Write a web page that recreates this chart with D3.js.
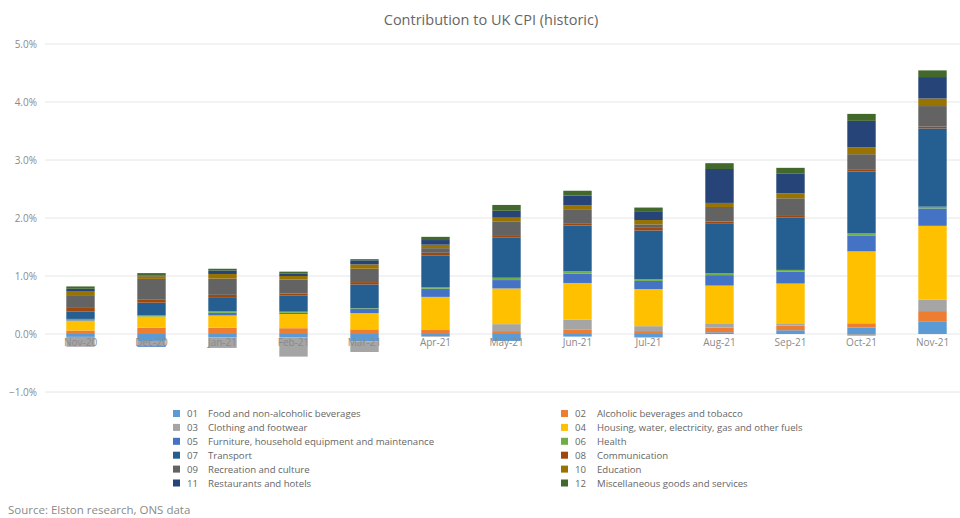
<!DOCTYPE html>
<html>
<head>
<meta charset="utf-8">
<script src="https://cdn.jsdelivr.net/npm/d3@7"></script>
<style>
  html, body { margin: 0; padding: 0; background: #fff; }
  svg { display: block; font-family: "Open Sans", "Noto Sans", sans-serif; }
</style>
</head>
<body>
<svg id="chart" width="960" height="518"></svg>
<script>
const months = ["Nov-20","Dec-20","Jan-21","Feb-21","Mar-21","Apr-21","May-21","Jun-21","Jul-21","Aug-21","Sep-21","Oct-21","Nov-21"];
const seriesCodes = ["01","02","03","04","05","06","07","08","09","10","11","12"];
const seriesNames = ["Food and non-alcoholic beverages","Alcoholic beverages and tobacco","Clothing and footwear","Housing, water, electricity, gas and other fuels","Furniture, household equipment and maintenance","Health","Transport","Communication","Recreation and culture","Education","Restaurants and hotels","Miscellaneous goods and services"];
const seriesColors = ["#5B9BD5","#ED7D31","#A5A5A5","#FFC000","#4472C4","#70AD47","#255E91","#9E480E","#636363","#997300","#264478","#43682B"];

// contributions, percentage points
const s01 = [-0.05, -0.12, -0.06, -0.06, -0.13, -0.04, -0.12, -0.045, -0.06, 0.03, 0.065, 0.11, 0.21];
const s02 = [0.06, 0.11, 0.11, 0.10, 0.08, 0.07, 0.05, 0.08, 0.05, 0.08, 0.08, 0.075, 0.185];
const s03 = [-0.17, -0.08, -0.18, -0.33, -0.18, -0.01, 0.12, 0.17, 0.085, 0.075, 0.04, -0.03, 0.2];
const s04 = [0.17, 0.19, 0.21, 0.245, 0.28, 0.57, 0.615, 0.63, 0.64, 0.65, 0.685, 1.24, 1.27];
const s05 = [0.01, -0.02, 0.045, 0.02, 0.075, 0.14, 0.145, 0.16, 0.14, 0.18, 0.205, 0.275, 0.3];
const s06 = [0.02, 0.02, 0.03, 0.02, 0.01, 0.03, 0.04, 0.04, 0.03, 0.035, 0.03, 0.04, 0.03];
const s07 = [0.13, 0.22, 0.24, 0.275, 0.41, 0.54, 0.69, 0.79, 0.84, 0.86, 0.905, 1.06, 1.35];
const s08 = [0.06, 0.05, 0.04, 0.04, 0.04, 0.05, 0.045, 0.04, 0.045, 0.03, 0.04, 0.03, 0.03];
const s09 = [0.22, 0.36, 0.28, 0.24, 0.23, 0.08, 0.23, 0.23, 0.06, 0.25, 0.29, 0.27, 0.355];
const s10 = [0.06, 0.045, 0.08, 0.06, 0.075, 0.06, 0.07, 0.075, 0.075, 0.07, 0.085, 0.12, 0.13];
const s11 = [0.05, 0.01, 0.06, 0.045, 0.07, 0.08, 0.12, 0.17, 0.14, 0.585, 0.345, 0.455, 0.37];
const s12 = [0.04, 0.045, 0.03, 0.03, 0.02, 0.055, 0.1, 0.085, 0.075, 0.1, 0.095, 0.12, 0.115];

const yTicks = [-1, 0, 1, 2, 3, 4, 5];
const titleText = "Contribution to UK CPI (historic)";
const sourceText = "Source: Elston research, ONS data";

const allSeries = [s01,s02,s03,s04,s05,s06,s07,s08,s09,s10,s11,s12];
const table = months.map((m, i) => {
  const row = { month: m };
  seriesCodes.forEach((c, k) => { row[c] = allSeries[k][i]; });
  return row;
});

const svg = d3.select("#chart");
const plotLeft = 45, plotRight = 968, plotTop = 44, plotBottom = 392;

const x = d3.scaleBand().domain(months).range([plotLeft, plotRight]).paddingInner(0.6).paddingOuter(0.3);
const y = d3.scaleLinear().domain([-1, 5]).range([plotBottom, plotTop]);
const color = d3.scaleOrdinal().domain(seriesCodes).range(seriesColors);

// title
svg.append("text")
  .attr("x", 491).attr("y", 25)
  .attr("text-anchor", "middle")
  .attr("font-size", 14.5)
  .attr("fill", "#666666")
  .text(titleText);

// gridlines
svg.append("g").selectAll("line").data(yTicks).join("line")
  .attr("x1", plotLeft).attr("x2", plotRight)
  .attr("y1", d => y(d)).attr("y2", d => y(d))
  .attr("stroke", "#e6e6e6").attr("stroke-width", 1);

// y axis labels
const yAxis = d3.axisLeft(y).tickValues(yTicks).tickSize(0).tickPadding(0)
  .tickFormat(d => d3.format(".1f")(d) + "%");
const gy = svg.append("g").attr("transform", `translate(37,0)`).call(yAxis);
gy.select(".domain").remove();
gy.selectAll("text").attr("font-size", 10).attr("fill", "#8a8a8a")
  .attr("font-family", "'Open Sans', sans-serif");

// stacked bars
const stack = d3.stack().keys(seriesCodes).offset(d3.stackOffsetDiverging);
const layers = stack(table);
svg.append("g").selectAll("g").data(layers).join("g")
  .attr("fill", d => color(d.key))
  .selectAll("rect").data(d => d).join("rect")
  .attr("x", d => x(d.data.month))
  .attr("width", x.bandwidth())
  .attr("y", d => y(Math.max(d[0], d[1])))
  .attr("height", d => Math.abs(y(d[0]) - y(d[1])));

// x axis labels
const xAxis = d3.axisBottom(x).tickSize(0).tickPadding(0);
const gx = svg.append("g").attr("transform", `translate(0,${y(0) + 5})`).call(xAxis);
gx.select(".domain").remove();
gx.selectAll("text").attr("font-size", 10).attr("fill", "#8a8a8a")
  .attr("font-family", "'Open Sans', sans-serif");

// legend
const legendCols = [ {sq: 173, code: 187, label: 208}, {sq: 561, code: 575, label: 597} ];
const legend = svg.append("g");
seriesCodes.forEach((c, k) => {
  const col = legendCols[k % 2];
  const row = Math.floor(k / 2);
  const cy = 413.5 + row * 13.9;
  legend.append("rect").attr("x", col.sq).attr("y", cy - 3.5).attr("width", 7).attr("height", 7)
    .attr("fill", color(c));
  legend.append("text").attr("x", col.code).attr("y", cy + 3.5)
    .attr("font-size", 9.6).attr("fill", "#666666").text(c);
  legend.append("text").attr("x", col.label).attr("y", cy + 3.5)
    .attr("font-size", 9.6).attr("fill", "#666666").text(seriesNames[k]);
});

// source
svg.append("text").attr("x", 8).attr("y", 514)
  .attr("font-size", 11.5).attr("fill", "#8a8a8a").text(sourceText);
</script>
</body>
</html>
